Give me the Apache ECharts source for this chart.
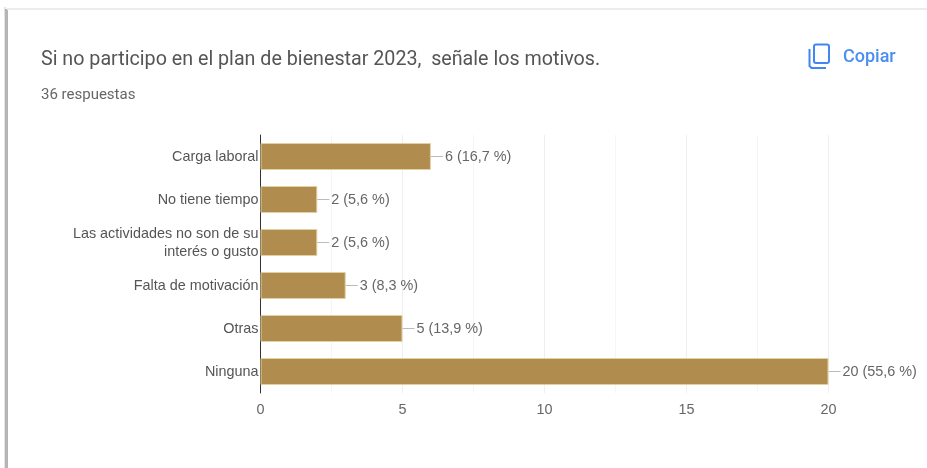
<!DOCTYPE html>
<html>
<head>
<meta charset="utf-8">
<style>html,body{margin:0;padding:0;background:#fff}#c{width:927px;height:468px}</style>
<script src="https://cdn.jsdelivr.net/npm/echarts@6/dist/echarts.min.js"></script>
</head>
<body>
<div id="c"></div>
<script>
const categories = ["Carga laboral","No tiene tiempo","Las actividades no son de su\ninterés o gusto","Falta de motivación","Otras","Ninguna"];
const values = [6,2,2,3,5,20];
const valueLabels = ["6 (16,7 %)","2 (5,6 %)","2 (5,6 %)","3 (8,3 %)","5 (13,9 %)","20 (55,6 %)"];
const titleText = "Si no participo en el plan de bienestar 2023,  señale los motivos.";
const subtitleText = "36 respuestas";
const copyText = "Copiar";

const chart = echarts.init(document.getElementById('c'), null, {renderer:'canvas'});
chart.setOption({
  animation:false,
  backgroundColor:'#fff',
  grid:{left:260.5,top:135,width:568,height:258,containLabel:false},
  xAxis:{
    type:'value',min:0,max:20,interval:5,
    axisLine:{show:false},axisTick:{show:false},
    axisLabel:{color:'#666',fontFamily:'Liberation Sans',fontSize:14.4,margin:10},
    splitLine:{show:true,lineStyle:{color:'#efefef',width:1}},
    minorTick:{show:false,splitNumber:2},
    minorSplitLine:{show:true,lineStyle:{color:'#f5f5f5',width:1}}
  },
  yAxis:{
    type:'category',inverse:true,data:categories,
    axisLine:{show:true,onZero:false,lineStyle:{color:'#333',width:1}},
    axisTick:{show:false},
    splitLine:{show:false},
    axisLabel:{
      color:'#555',fontFamily:'Liberation Sans',fontSize:14.4,margin:2,align:'right',
      formatter:v=>v.split('\n').map(s=>'{a|'+s+'}').join('\n'),
      rich:{a:{color:'#555',fontFamily:'Liberation Sans',fontSize:14.4,lineHeight:18,padding:[2,0,0,0],align:'right'}}
    }
  },
  series:[
    {
      type:'custom',
      data:values.map((v,i)=>[v,i]),
      encode:{x:0,y:1},
      z:1,
      renderItem:(params,api)=>{
        const p=api.coord([api.value(0),api.value(1)]);
        return {type:'line',shape:{x1:p[0],y1:p[1],x2:p[0]+12,y2:p[1]},style:{stroke:'#bbb',lineWidth:1},silent:true};
      }
    },
    {
      type:'bar',data:values,barWidth:27,z:3,
      itemStyle:{color:'#b08d4e',borderColor:'#e3cfa0',borderWidth:1},
      label:{show:true,position:'right',distance:14,offset:[0,1],color:'#666',fontFamily:'Liberation Sans',fontSize:14.4,
        formatter:p=>valueLabels[p.dataIndex]}
    }
  ],
  graphic:[
    {type:'rect',z:-1,shape:{x:4,y:7,width:2,height:461},style:{fill:'#e4e4e4'}},
    {type:'rect',z:-1,shape:{x:5,y:9,width:3,height:459},style:{fill:'#b5b5b5'}},
    {type:'rect',z:-1,shape:{x:7,y:8,width:920,height:2},style:{fill:'#ececec'}},
    {type:'text',left:41,top:50,style:{text:titleText,font:'19.7px Roboto',fill:'#555'}},
    {type:'text',left:41,top:88,style:{text:subtitleText,font:'15px Roboto',fill:'#666'}},
    {type:'text',left:843,top:48,style:{text:copyText,font:'500 18px Roboto',fill:'#4b8ef1'}},
    {type:'rect',shape:{x:814,y:44.5,width:15,height:18.5,r:2},style:{fill:'none',stroke:'#4285f4',lineWidth:2}},
    {type:'polyline',shape:{points:[[809.5,49],[809.5,66],[811.5,68],[826,68]]},style:{fill:'none',stroke:'#4285f4',lineWidth:2}}
  ]
});
</script>
</body>
</html>
